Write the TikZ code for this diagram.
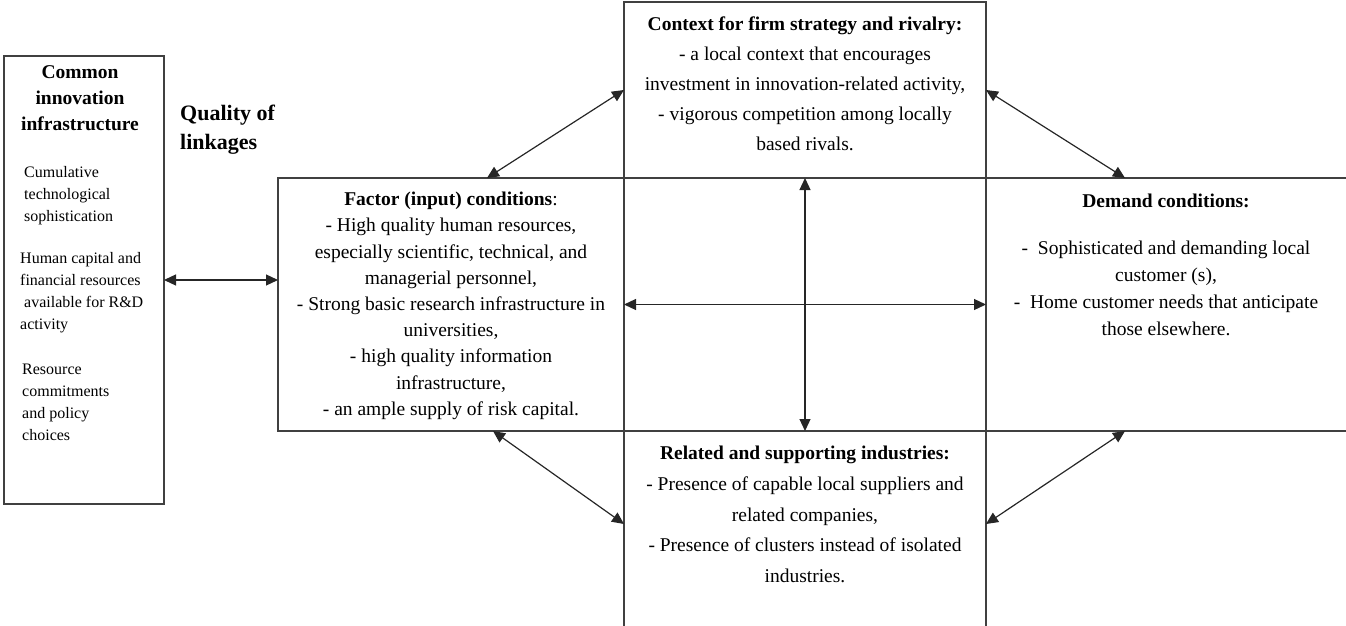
\documentclass[tikz,border=0pt]{standalone}
\usepackage{fontspec}
\setmainfont{Liberation Serif}
\usetikzlibrary{arrows.meta}

\begin{document}
\begin{tikzpicture}[x=1pt,y=-1pt,
		box/.style={draw=black!75, line width=1.3pt, rectangle, inner sep=0pt, outer sep=0pt, anchor=north west},
		txt/.style={align=center, anchor=north, inner sep=0pt, font=\fontsize{19.5}{30}\selectfont},
		small/.style={align=left, anchor=north west, inner sep=0pt, font=\fontsize{16}{22}\selectfont},
		link/.style={{Triangle[length=12pt,width=11pt]}-{Triangle[length=12pt,width=11pt]}, line width=1.2pt, black!85}]
		\useasboundingbox (0,0) rectangle (1346,626);

		% Kaesten
		\begin{scope}
			\clip (0,0) rectangle (1346,626);
			\node[box, minimum width=160, minimum height=448] (inf) at (4,56) {};
			\node[box, minimum width=362, minimum height=176] (ctx) at (624,2) {};
			\node[box, minimum width=346, minimum height=253] (fac) at (278,178) {};
			\node[box, minimum width=362, minimum height=253] (cen) at (624,178) {};
			\node[box, minimum width=400, minimum height=253] (dem) at (986,178) {};
			\node[box, minimum width=362, minimum height=240] (rel) at (624,431) {};
		\end{scope}

		% Koordinaten
		\coordinate (facT) at (487,178);
		\coordinate (facB) at (493,431);
		\coordinate (demT) at (1125,178);
		\coordinate (demB) at (1125,431);
		\coordinate (relW) at (624,524);
		\coordinate (relE) at (986,524);

		% Texte
		\node[txt] (ctxText) at (805,17) {\textbf{Context for firm strategy and rivalry:}\\
			- a local context that encourages\\
			investment in innovation-related activity,\\
			- vigorous competition among locally\\
			based rivals.};
		\node[txt, font=\fontsize{19.5}{26.2}\selectfont] (facText) at (451,192) {\textbf{Factor (input) conditions}:\\
			- High quality human resources,\\
			especially scientific, technical, and\\
			managerial personnel,\\
			- Strong basic research infrastructure in\\
			universities,\\
			- high quality information\\
			infrastructure,\\
			- an ample supply of risk capital.};
		\node[txt, font=\fontsize{19.5}{27}\selectfont] (demText) at (1166,194) {\textbf{Demand conditions:}\\[20pt]
			-\ \ Sophisticated and demanding local\\
			customer (s),\\
			-\ \ Home customer needs that anticipate\\
			those elsewhere.};
		\node[txt, font=\fontsize{19.5}{30.7}\selectfont] (relText) at (805,446) {\textbf{Related and supporting industries:}\\
			- Presence of capable local suppliers and\\
			related companies,\\
			- Presence of clusters instead of isolated\\
			industries.};
		\node[txt, font=\fontsize{19.5}{26}\selectfont\bfseries] (infTitle) at (80,65) {Common\\ innovation\\ infrastructure};
		\node[small] (infA) at (24,166) {Cumulative\\ technological\\ sophistication};
		\node[small] (infB) at (20,252) {Human capital and\\ financial resources\\ \hspace{4pt}available for R\&D\\ activity};
		\node[small] (infC) at (22,364) {Resource\\ commitments\\ and policy\\ choices};
		\node[small, font=\fontsize{22}{29}\selectfont\bfseries] (qual) at (180,105) {Quality of\\ linkages};

		% Pfeile
		\draw[link] (inf.east) -- (inf.east -| fac.west);
		\draw[link] (facT) -- (ctx.west);
		\draw[link] (ctx.east) -- (demT);
		\draw[link] (facB) -- (relW);
		\draw[link] (demB) -- (relE);
		\draw[link] (cen.north) -- (cen.south);
		\draw[link] (cen.west) -- (cen.east);
	\end{tikzpicture}
\end{document}
